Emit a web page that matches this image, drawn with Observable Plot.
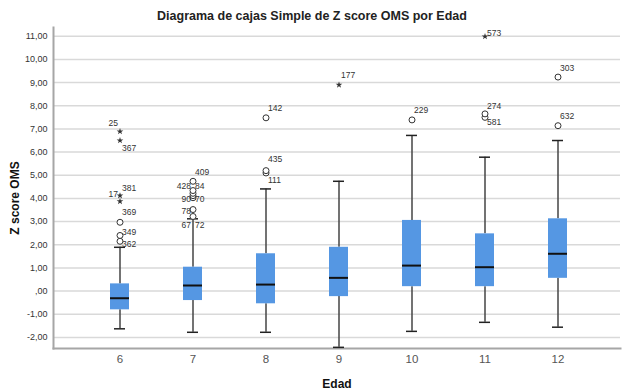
<!DOCTYPE html>
<html><head><meta charset="utf-8">
<script src="https://cdn.jsdelivr.net/npm/d3@7"></script>
<script src="https://cdn.jsdelivr.net/npm/@observablehq/plot@0.6"></script>
<style>
body{margin:0;background:#fff;font-family:"Liberation Sans",Arial,sans-serif;}
#titulo{width:624px;height:16px;padding-top:8px;line-height:16px;font-size:12.5px;font-weight:bold;text-align:center;color:#222;}
#chart svg{display:block;}
</style></head><body>
<div id="titulo">Diagrama de cajas Simple de Z score OMS por Edad</div>
<div id="chart"></div>
<script>
// Categorías (Edad)
const edades = [6, 7, 8, 9, 10, 11, 12];
// Estadísticos de cada caja (Z score OMS)
const bigoteInf = [-1.63, -1.78, -1.78, -2.43, -1.74, -1.35, -1.56];
const q1        = [-0.81, -0.41, -0.55, -0.24,  0.19,  0.19,  0.55];
const mediana   = [-0.31,  0.24,  0.28,  0.57,  1.10,  1.03,  1.61];
const q3        = [ 0.31,  1.03,  1.61,  1.89,  3.05,  2.47,  3.12];
const bigoteSup = [ 1.89,  3.12,  4.41,  4.74,  6.72,  5.78,  6.50];

// Valores atípicos (círculos)
const atipEdad = [6, 6, 6, 7, 7, 7, 7, 7, 7, 7, 8, 8, 8, 10, 11, 11, 12, 12];
const atipZ    = [2.15, 2.40, 2.97, 3.22, 3.52, 4.03, 4.12, 4.22, 4.34, 4.74, 5.10, 5.20, 7.48, 7.39, 7.50, 7.65, 7.14, 9.24];
// Valores extremos (estrellas)
const extEdad = [6, 6, 6, 6, 9, 11];
const extZ    = [3.87, 4.12, 6.50, 6.89, 8.90, 10.99];

// Etiquetas de casos
const etqEdad = [6, 6, 6, 6, 6, 6, 6, 7, 7, 7, 7, 7, 7, 7, 7, 8, 8, 8, 9, 10, 11, 11, 11, 12, 12];
const etqZ    = [7.25, 6.17, 4.46, 4.18, 3.40, 2.54, 2.00, 5.13, 4.53, 4.53, 3.95, 3.95, 3.45, 2.83, 2.83, 7.91, 5.67, 4.77, 9.31, 7.80, 11.15, 7.97, 7.29, 9.64, 7.55];
const etqId   = ["25", "367", "381", "17", "369", "349", "362", "409", "428", "84", "90", "70", "78", "67", "72", "142", "435", "111", "177", "229", "573", "274", "581", "303", "632"];
const etqLado = ["izq", "der", "der", "izq", "der", "der", "der", "der", "izq", "der", "izq", "der", "izq", "izq", "der", "der", "der", "der", "der", "der", "der", "der", "der", "der", "der"];

// Marcas del eje Y
const yTicks = [-2, -1, 0, 1, 2, 3, 4, 5, 6, 7, 8, 9, 10, 11];

const cajas = edades.map((e, i) => ({edad: e, inf: bigoteInf[i], q1: q1[i], med: mediana[i], q3: q3[i], sup: bigoteSup[i]}));
const atipicos = atipEdad.map((e, i) => ({edad: e, z: atipZ[i]}));
const extremos = extEdad.map((e, i) => ({edad: e, z: extZ[i]}));
const etiquetas = etqEdad.map((e, i) => ({edad: e, z: etqZ[i], id: etqId[i], lado: etqLado[i]}));

const fmt = v => v === 0 ? ",00" : v.toFixed(2).replace(".", ",");

const chart = Plot.plot({
  width: 624,
  height: 366,
  marginLeft: 53,
  marginRight: 4,
  marginTop: 3,
  marginBottom: 42,
  style: {fontFamily: "'Liberation Sans', Arial, sans-serif", background: "white"},
  x: {type: "band", domain: edades, padding: 0, insetLeft: 29.5, insetRight: 26.5},
  y: {domain: [-2.48, 11.38]},
  marks: [
    Plot.gridY(yTicks, {stroke: "#d9d9d9", strokeOpacity: 1, strokeWidth: 1.5}),
    Plot.frame({anchor: "left", stroke: "#a6a6a6", strokeWidth: 2}),
    Plot.frame({anchor: "bottom", stroke: "#a6a6a6", strokeWidth: 2}),
    Plot.axisY(yTicks, {tickSize: 0, tickPadding: 6, tickFormat: fmt, fontSize: 9, color: "#333", label: null}),
    Plot.axisX({tickSize: 0, tickPadding: 6, fontSize: 11.5, color: "#555", label: null}),
    Plot.text(["Z score OMS"], {frameAnchor: "left", textAnchor: "middle", lineAnchor: "middle", dx: -38, dy: 10, rotate: -90, fontSize: 12, fontWeight: "bold", fill: "#111"}),
    Plot.text(["Edad"], {frameAnchor: "bottom", textAnchor: "middle", lineAnchor: "middle", dy: 36, fontSize: 12, fontWeight: "bold", fill: "#111"}),
    Plot.ruleX(cajas, {x: "edad", y1: "inf", y2: "q1", stroke: "#444", strokeWidth: 1.5}),
    Plot.ruleX(cajas, {x: "edad", y1: "q3", y2: "sup", stroke: "#444", strokeWidth: 1.5}),
    Plot.tickY(cajas, {x: "edad", y: "inf", stroke: "#222", strokeWidth: 1.5, inset: 31}),
    Plot.tickY(cajas, {x: "edad", y: "sup", stroke: "#222", strokeWidth: 1.5, inset: 31}),
    Plot.barY(cajas, {x: "edad", y1: "q1", y2: "q3", fill: "#5597e3", insetLeft: 27, insetRight: 27}),
    Plot.tickY(cajas, {x: "edad", y: "med", stroke: "#111", strokeWidth: 2, inset: 27}),
    Plot.dot(atipicos, {x: "edad", y: "z", r: 3, stroke: "#333", fill: "white", strokeWidth: 1}),
    Plot.dot(extremos, {x: "edad", y: "z", symbol: "star", r: 2.1, fill: "#333", stroke: "none"}),
    Plot.text(etiquetas.filter(d => d.lado === "der"), {x: "edad", y: "z", text: "id", textAnchor: "start", dx: 2, fontSize: 8.5, fill: "#333"}),
    Plot.text(etiquetas.filter(d => d.lado === "izq"), {x: "edad", y: "z", text: "id", textAnchor: "end", dx: -2, fontSize: 8.5, fill: "#333"})
  ]
});
document.getElementById("chart").appendChild(chart);
</script>
</body></html>
